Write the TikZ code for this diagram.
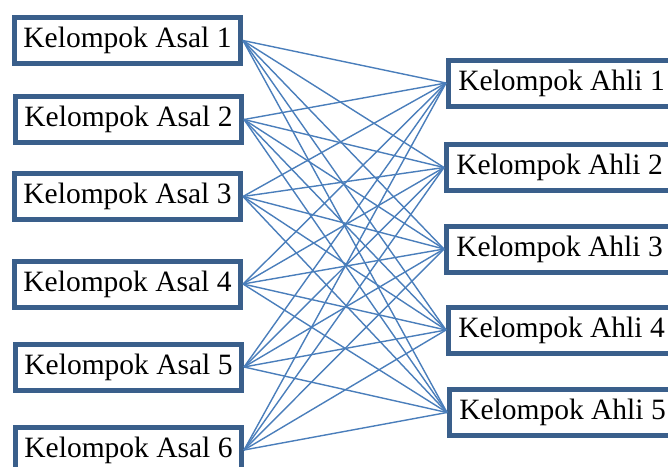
\documentclass[tikz,border=0pt]{standalone}
\usepackage{fontspec}
\setmainfont{Liberation Serif}
\definecolor{boxblue}{HTML}{3A5F8B}
\definecolor{linkblue}{HTML}{4A7EBB}

\begin{document}
\begin{tikzpicture}[x=1pt,y=-1pt,inner sep=0pt,
groupbox/.style={draw=boxblue,rectangle,line width=5pt,minimum width=226pt,minimum height=46pt,font=\fontsize{29.5}{32}\selectfont},
link/.style={draw=linkblue,line width=1.4pt}]

\path[use as bounding box,clip] (0,0) rectangle (668,466);

\node[groupbox] (asal1) at (127.5,40.5) {Kelompok Asal 1};
\node[groupbox] (asal2) at (128.5,119.5) {Kelompok Asal 2};
\node[groupbox] (asal3) at (127.5,196.5) {Kelompok Asal 3};
\node[groupbox] (asal4) at (127.5,284) {Kelompok Asal 4};
\node[groupbox] (asal5) at (128.5,367) {Kelompok Asal 5};
\node[groupbox] (asal6) at (128.5,450) {Kelompok Asal 6};

\node[groupbox] (ahli1) at (561.5,83) {Kelompok Ahli 1};
\node[groupbox] (ahli2) at (559.5,167.5) {Kelompok Ahli 2};
\node[groupbox] (ahli3) at (559.5,249) {Kelompok Ahli 3};
\node[groupbox] (ahli4) at (561.5,330) {Kelompok Ahli 4};
\node[groupbox] (ahli5) at (562.5,412.5) {Kelompok Ahli 5};

% every asal group sends one member to every ahli group
\foreach \i in {1,...,6}
  \foreach \j in {1,...,5}
    \draw[link] (asal\i.east) -- (ahli\j.west);
\end{tikzpicture}
\end{document}
